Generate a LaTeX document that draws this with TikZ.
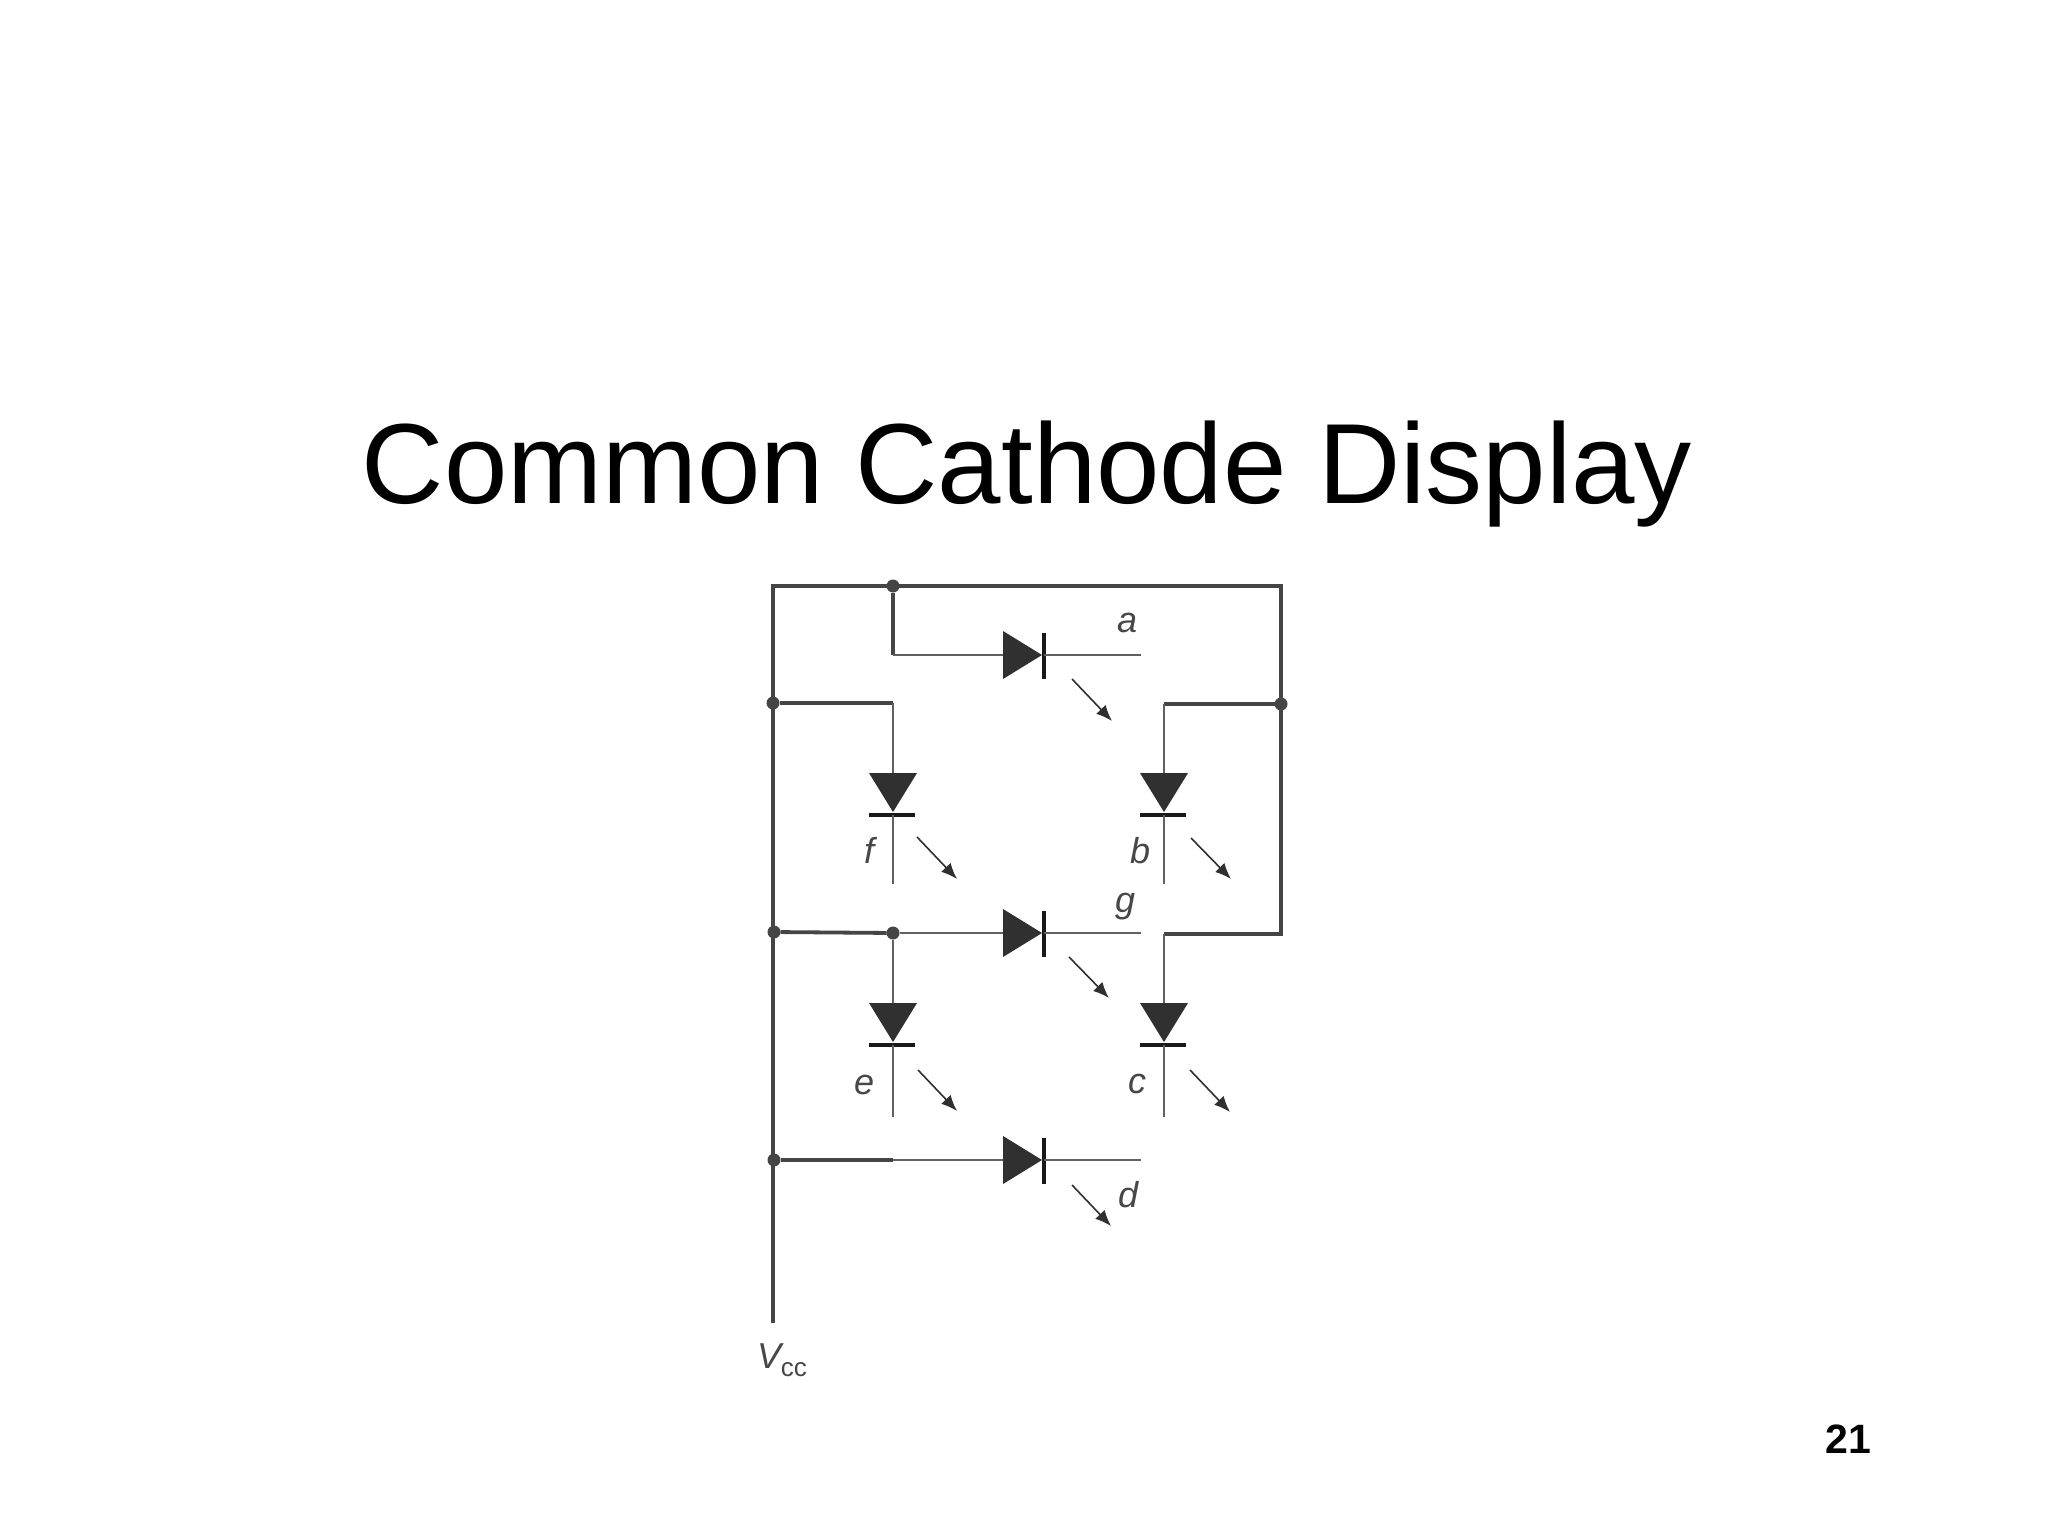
\documentclass[tikz,border=0pt]{standalone}
\usepackage{fontspec}
\setmainfont{Liberation Sans}
\usetikzlibrary{arrows.meta}
\definecolor{wire}{HTML}{454545}
\definecolor{dio}{HTML}{303030}
\tikzset{
  every node/.style={inner sep=0pt,outer sep=0pt},
  heavy/.style={draw=wire,line width=1.9pt,line join=miter},
  thin wire/.style={draw=wire!85,line width=1pt},
  dot/.style={circle,fill=wire,minimum size=6.5pt},
  body/.style={fill=dio},
  barline/.style={draw=black!90,line width=1.8pt},
  glow/.style={draw=dio,line width=0.8pt,-{Latex[length=8pt,width=6.5pt]}},
  seg/.style={font=\itshape\fontsize{18}{18}\selectfont,text=black!72},
}
\newcommand{\hdiode}[2]{%
  \coordinate (#1in) at (1003,#2);
  \coordinate (#1bar) at (1044,#2);
  \coordinate (#1end) at (1141,#2);
  \fill[body] (1003,#2-24) -- (1042,#2) -- (1003,#2+24) -- cycle;
  \draw[barline] (1044,#2-22.5) -- (1044,#2+23.5);
  \draw[thin wire] (#1bar) -- (#1end);
}
\newcommand{\vdiode}[4]{%
  \coordinate (#1in) at (#2,#3);
  \coordinate (#1bar) at (#2,#3+42);
  \coordinate (#1end) at (#2,#3+#4);
  \fill[body] (#2-24,#3) -- (#2+24,#3) -- (#2,#3+39) -- cycle;
  \draw[barline] (#2-24,#3+42) -- (#2+22,#3+42);
  \draw[thin wire] (#1bar) -- (#1end);
}
\begin{document}
\begin{tikzpicture}[x=0.5pt,y=-0.5pt]
\useasboundingbox (0,0) rectangle (2048,1536);
\fill[white] (0,0) rectangle (2048,1536);
\node[anchor=base,font=\fontsize{57}{57}\selectfont] (title) at (1027,503) {Common Cathode Display};
\node[anchor=base east,font=\bfseries\fontsize{20.5}{20.5}\selectfont] (page) at (1871,1453) {21};

% junctions
\node[dot] (jtop) at (893,586) {};
\node[dot] (jf) at (773,703) {};
\node[dot] (jb) at (1281,704) {};
\node[dot] (jg) at (774,932) {};
\node[dot] (jgm) at (893,933) {};
\node[dot] (jd) at (774,1160) {};
\coordinate (tl) at (773,586);
\coordinate (tr) at (1281,586);
\coordinate (vcc) at (773,1323);
\coordinate (acorner) at (893,655);
\coordinate (fcorner) at (893,703);
\coordinate (bcorner) at (1164,704);
\coordinate (rb) at (1281,934);
\coordinate (ccorner) at (1164,934);
\coordinate (dmid) at (893,1160);

% diodes
\hdiode{a}{655}
\hdiode{g}{933}
\hdiode{d}{1160}
\vdiode{f}{893}{773}{111}
\vdiode{b}{1164}{773}{111}
\vdiode{e}{893}{1003}{114}
\vdiode{c}{1164}{1003}{114}

% heavy wiring
\draw[heavy] (vcc) -- (tl) -- (tr) -- (rb) -- (ccorner);
\draw[heavy] (jtop) -- (acorner);
\draw[heavy] (jf) -- (fcorner);
\draw[heavy] (jb) -- (bcorner);
\draw[heavy] (jg) -- (jgm);
\draw[heavy] (jd) -- (dmid);

% thin wiring
\draw[thin wire] (acorner) -- (ain);
\draw[thin wire] (jgm) -- (gin);
\draw[thin wire] (dmid) -- (din);
\draw[thin wire] (fcorner) -- (fin);
\draw[thin wire] (bcorner) -- (bin);
\draw[thin wire] (jgm) -- (ein);
\draw[thin wire] (ccorner) -- (cin);

% light arrows
\coordinate (la1) at (1072,679); \coordinate (la2) at (1112,721);
\coordinate (lf1) at (917,837);  \coordinate (lf2) at (957,879);
\coordinate (lb1) at (1191,838); \coordinate (lb2) at (1231,879);
\coordinate (lg1) at (1069,957); \coordinate (lg2) at (1109,998);
\coordinate (le1) at (918,1070); \coordinate (le2) at (957,1111);
\coordinate (lc1) at (1190,1070);\coordinate (lc2) at (1230,1112);
\coordinate (ld1) at (1072,1185);\coordinate (ld2) at (1111,1226);
\foreach \s in {a,f,b,g,e,c,d} {\draw[glow] (l\s1) -- (l\s2);}

% labels
\node[seg] (la) at (1127,623) {a};
\node[seg] (lf) at (869,850) {f};
\node[seg] (lb) at (1140,851) {b};
\node[seg] (lg) at (1125,907) {g};
\node[seg] (le) at (864,1085) {e};
\node[seg] (lc) at (1137,1084) {c};
\node[seg] (ld) at (1128,1195) {d};
\node[anchor=base west,text=black!72,font=\fontsize{18}{18}\selectfont] (lvcc) at (757,1368) {\textit{V}\kern-1.5pt\raisebox{-4pt}{\fontsize{13}{13}\selectfont cc}};
\end{tikzpicture}
\end{document}
